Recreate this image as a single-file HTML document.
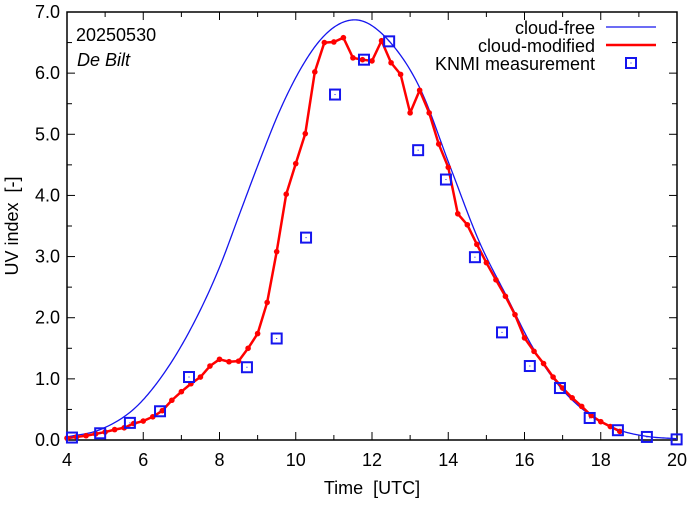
<!DOCTYPE html>
<html><head><meta charset="utf-8">
<style>
body{margin:0;background:#fff;}
svg text{font-family:"Liberation Sans",sans-serif;fill:#000;}
</style></head>
<body>
<svg id="chart" width="694" height="501" viewBox="0 0 694 501" xmlns="http://www.w3.org/2000/svg">
<g id="axes"></g>
<g id="series"></g>
<text x="76" y="41" font-size="18">20250530</text>
<text x="77" y="66" font-size="18" font-style="italic">De Bilt</text>
<g>
<text x="595" y="34" font-size="18" text-anchor="end">cloud-free</text>
<line x1="606" y1="27" x2="656" y2="27" stroke="#1515ee" stroke-width="1.2"/>
<text x="595" y="52" font-size="18" text-anchor="end">cloud-modified</text>
<line x1="606" y1="45" x2="656" y2="45" stroke="#f00" stroke-width="2.5"/>
<text x="595" y="70" font-size="18" text-anchor="end">KNMI measurement</text>
<rect x="626" y="58" width="10" height="10" fill="none" stroke="#1515ee" stroke-width="2"/>
<rect x="630.5" y="62.5" width="1" height="1" fill="#1515ee"/>
</g>
<text x="372" y="494" font-size="18" text-anchor="middle" xml:space="preserve">Time  [UTC]</text>
<text transform="translate(18,226) rotate(-90)" font-size="18" text-anchor="middle" xml:space="preserve">UV index  [-]</text>
</svg>
<script>
const redT=[4,4.25,4.5,4.75,5,5.25,5.5,5.75,6,6.25,6.5,6.75,7,7.25,7.5,7.75,8,8.25,8.5,8.75,9,9.25,9.5,9.75,10,10.25,10.5,10.75,11,11.25,11.5,11.75,12,12.25,12.5,12.75,13,13.25,13.5,13.75,14,14.25,14.5,14.75,15,15.25,15.5,15.75,16,16.25,16.5,16.75,17,17.25,17.5,17.75,18,18.25,18.5];
const redV=[0.03,0.05,0.07,0.1,0.13,0.17,0.2,0.27,0.31,0.38,0.48,0.65,0.79,0.92,1.03,1.21,1.32,1.28,1.29,1.5,1.74,2.25,3.08,4.02,4.52,5.01,6.02,6.5,6.51,6.58,6.25,6.22,6.2,6.53,6.17,5.98,5.35,5.72,5.35,4.84,4.46,3.7,3.52,3.2,2.9,2.62,2.35,2.05,1.67,1.45,1.25,1.03,0.85,0.69,0.55,0.4,0.3,0.22,0.14];
const blueT=[4,4.87,5.91,6.44,7.23,8.01,8.54,9.06,9.59,10.11,10.64,11.16,11.6,12.47,13.26,14.05,14.83,15.53,16.23,16.93,17.72,18.5,19.2,20];
const blueV=[0.05,0.17,0.6,1.0,1.8,2.84,3.72,4.58,5.4,6.05,6.54,6.81,6.87,6.51,5.75,4.47,3.22,2.35,1.5,0.87,0.41,0.16,0.06,0.02];
const measT=[4.13,4.87,5.65,6.44,7.2,8.72,9.5,10.27,11.03,11.79,12.45,13.21,13.94,14.7,15.41,16.14,16.93,17.71,18.45,19.21,19.99];
const measV=[0.04,0.11,0.28,0.47,1.03,1.19,1.66,3.31,5.65,6.22,6.52,4.74,4.26,2.99,1.76,1.21,0.85,0.36,0.16,0.05,0.01];
const xTicks=[4,6,8,10,12,14,16,18,20];
const yTicks=["0.0","1.0","2.0","3.0","4.0","5.0","6.0","7.0"];

const L=67,R=677,T=12,B=440;
const sx=t=>L+(t-4)/16*(R-L);
const sy=v=>B-v/7*(B-T);
const NS="http://www.w3.org/2000/svg";
function mk(tag,attrs,parent){const e=document.createElementNS(NS,tag);for(const k in attrs)e.setAttribute(k,attrs[k]);parent.appendChild(e);return e;}
const ax=document.getElementById('axes'),se=document.getElementById('series');
for(let h=4;h<=20;h++){const x=sx(h);const len=(h%2===0)?8:5;
 let t1=mk('line',{x1:x,y1:B,x2:x,y2:B-len,stroke:'#000','stroke-width':1},ax);
 
 
 let t2=mk('line',{x1:x,y1:T,x2:x,y2:T+len,stroke:'#000','stroke-width':1},ax);
 
 }
xTicks.forEach(h=>{const tx=mk('text',{x:sx(h),y:B+26,'font-size':18,'text-anchor':'middle'},ax);tx.textContent=h;
 
 });
for(let i=0;i<=14;i++){const v=i*0.5,y=sy(v),len=(i%2===0)?8:5;
 let t1=mk('line',{x1:L,y1:y,x2:L+len,y2:y,stroke:'#000','stroke-width':1},ax);
 
 
 let t2=mk('line',{x1:R,y1:y,x2:R-len,y2:y,stroke:'#000','stroke-width':1},ax);
 
 }
yTicks.forEach(s=>{const tx=mk('text',{x:L-7,y:sy(parseFloat(s))+6,'font-size':18,'text-anchor':'end'},ax);tx.textContent=s;
 
 });
const frame=mk('rect',{x:L,y:T,width:R-L,height:B-T,fill:'none',stroke:'#000','stroke-width':1.5},ax);


const n=blueT.length,m=[];
for(let i=0;i<n;i++){
 if(i===0)m.push((blueV[1]-blueV[0])/(blueT[1]-blueT[0]));
 else if(i===n-1)m.push((blueV[n-1]-blueV[n-2])/(blueT[n-1]-blueT[n-2]));
 else{const h0=blueT[i]-blueT[i-1],h1=blueT[i+1]-blueT[i];
  const d0=(blueV[i]-blueV[i-1])/h0,d1=(blueV[i+1]-blueV[i])/h1;
  m.push((h1*d0+h0*d1)/(h0+h1));}
}
const pts=[];
for(let i=0;i<n-1;i++){const h=blueT[i+1]-blueT[i];
 for(let k=0;k<20;k++){const s=k/20,s2=s*s,s3=s2*s;
  const v=(2*s3-3*s2+1)*blueV[i]+(s3-2*s2+s)*h*m[i]+(-2*s3+3*s2)*blueV[i+1]+(s3-s2)*h*m[i+1];
  pts.push(sx(blueT[i]+s*h).toFixed(2)+','+sy(Math.max(0,v)).toFixed(2));}}
pts.push(sx(blueT[n-1])+','+sy(blueV[n-1]));
const blue=mk('polyline',{points:pts.join(' '),fill:'none',stroke:'#1515ee','stroke-width':1.3},se);


const red=mk('polyline',{points:redT.map((t,i)=>sx(t)+','+sy(redV[i])).join(' '),fill:'none',stroke:'#f00','stroke-width':2.5,'stroke-linejoin':'round'},se);


redT.forEach((t,i)=>{const c=mk('circle',{cx:sx(t),cy:sy(redV[i]),r:2.8,fill:'#f00'},se);
 
 });
measT.forEach((t,i)=>{const x=sx(t),y=sy(measV[i]);
 const r=mk('rect',{x:x-5,y:y-5,width:10,height:10,fill:'none',stroke:'#1515ee','stroke-width':2},se);
 
 
 mk('rect',{x:x-0.5,y:y-0.5,width:1,height:1,fill:'#1515ee'},se);});
</script>
</body></html>
